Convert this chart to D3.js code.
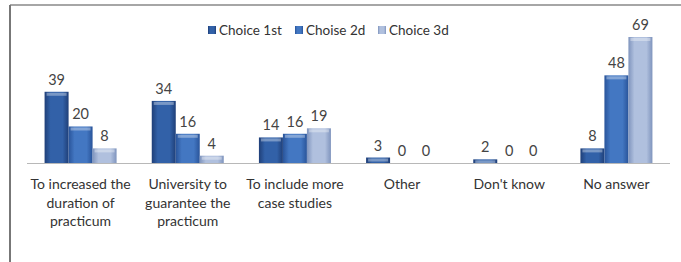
<!DOCTYPE html>
<html>
<head>
<meta charset="utf-8">
<script src="https://cdn.jsdelivr.net/npm/d3@7"></script>
<style>
  body { margin: 0; background: #fff; }
  svg { display: block; font-family: Lato, "Open Sans", sans-serif; }
</style>
</head>
<body>
<script>
const categories = [
  ["To increased the", "duration of", "practicum"],
  ["University to", "guarantee the", "practicum"],
  ["To include more", "case studies"],
  ["Other"],
  ["Don't know"],
  ["No answer"]
];
const seriesNames = ["Choice 1st", "Choise 2d", "Choice 3d"];
const choice1 = [39, 34, 14, 3, 2, 8];
const choice2 = [20, 16, 16, 0, 0, 48];
const choice3 = [8, 4, 19, 0, 0, 69];
const series = [choice1, choice2, choice3];

const width = 681, height = 262;
const svg = d3.select("body").append("svg")
  .attr("width", width).attr("height", height);

// gradients, dark edges and lighter middle like the office bars
const cols = [
  {edge: "#1f3f78", mid: "#3261a8"},
  {edge: "#29549a", mid: "#4377c2"},
  {edge: "#7f94bd", mid: "#b0c0de"}
];
const defs = svg.append("defs");
cols.forEach((c, i) => {
  const g = defs.append("linearGradient").attr("id", "g" + i)
    .attr("x1", 0).attr("x2", 1).attr("y1", 0).attr("y2", 0);
  g.append("stop").attr("offset", "0%").attr("stop-color", c.edge);
  g.append("stop").attr("offset", "25%").attr("stop-color", c.mid);
  g.append("stop").attr("offset", "75%").attr("stop-color", c.mid);
  g.append("stop").attr("offset", "100%").attr("stop-color", c.edge);
});

// frame
svg.append("line").attr("x1", 10).attr("x2", width).attr("y1", 5).attr("y2", 5)
  .attr("stroke", "#888").attr("stroke-width", 1.5);
svg.append("line").attr("x1", 10).attr("x2", 10).attr("y1", 5).attr("y2", height)
  .attr("stroke", "#777").attr("stroke-width", 2);

const x0 = d3.scaleBand().domain(d3.range(categories.length)).range([27, 670]);
const x1 = d3.scaleBand().domain(d3.range(3)).range([0, 72]);
const y = d3.scaleLinear().domain([0, 69]).range([163, 37]);

const groups = svg.selectAll("g.grp").data(categories).join("g")
  .attr("class", "grp")
  .attr("transform", (d, i) => `translate(${x0(i) + (x0.bandwidth() - 72) / 2},0)`);

groups.each(function(cat, ci) {
  const g = d3.select(this);
  series.forEach((s, si) => {
    const v = s[ci];
    const bx = x1(si), bw = x1.bandwidth();
    if (v > 0) {
      g.append("rect").attr("x", bx).attr("y", y(v)).attr("width", bw)
        .attr("height", y(0) - y(v)).attr("fill", `url(#g${si})`);
      g.append("rect").attr("x", bx + 2).attr("y", y(v) + 1).attr("width", bw - 4)
        .attr("height", Math.min(3, y(0) - y(v) - 1)).attr("fill", "#fff").attr("opacity", 0.35);
    }
    g.append("text").attr("x", bx + bw / 2).attr("y", y(v) - 7)
      .attr("text-anchor", "middle").attr("font-size", 14.5).attr("fill", "#444")
      .text(v);
  });
});

// axis line
svg.append("line").attr("x1", 27).attr("x2", 670).attr("y1", y(0) + 0.5).attr("y2", y(0) + 0.5)
  .attr("stroke", "#b8b8b8").attr("stroke-width", 1);

// category labels
categories.forEach((lines, i) => {
  const t = svg.append("text").attr("text-anchor", "middle")
    .attr("font-size", 14).attr("fill", "#333");
  lines.forEach((l, j) => {
    t.append("tspan").attr("x", x0(i) + x0.bandwidth() / 2).attr("y", 189 + j * 18.5).text(l);
  });
});

// legend
const legX = [208, 295, 378];
seriesNames.forEach((n, i) => {
  svg.append("rect").attr("x", legX[i]).attr("y", 26).attr("width", 8).attr("height", 8)
    .attr("fill", `url(#g${i})`);
  svg.append("text").attr("x", legX[i] + 11).attr("y", 34.5)
    .attr("font-size", 13.5).attr("fill", "#333").text(n);
});
</script>
</body>
</html>
